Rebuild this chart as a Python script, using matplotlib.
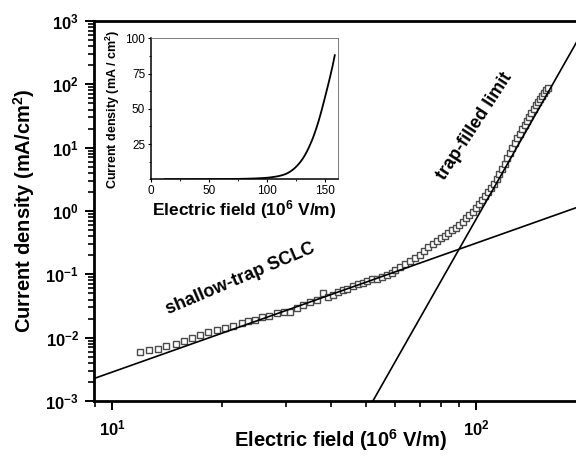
import numpy as np
import matplotlib as mpl
mpl.use('Agg')
from matplotlib import pyplot as plt
from matplotlib.ticker import NullFormatter, LogLocator, MultipleLocator

# fonts: bold Arial-like everywhere, math text in the same bold face
plt.rcParams['font.family'] = ['Liberation Sans', 'DejaVu Sans']
plt.rcParams['mathtext.fontset'] = 'custom'
plt.rcParams['mathtext.rm'] = 'Liberation Sans:bold'
plt.rcParams['mathtext.it'] = 'Liberation Sans:bold'
plt.rcParams['mathtext.bf'] = 'Liberation Sans:bold'
plt.rcParams['mathtext.default'] = 'rm'

# measured J-E data: field (10^6 V/m), current density (mA/cm^2)
field = [11.9, 12.6, 13.35, 14.1, 15.0, 15.8, 16.6, 17.5, 18.4, 19.4, 20.4,
         21.5, 22.7, 23.7, 24.7, 25.8, 27.05, 28.35,
         29.7, 30.8, 32.2, 33.55, 35.0, 36.5, 38.1, 39.3, 40.55, 41.85, 43.1,
         44.2, 45.9, 47.4, 48.9, 50.2, 51.8, 53.5, 55.2, 57.0, 58.8,
         60, 62, 64, 66, 68, 70, 72, 74, 76, 78, 80, 82, 84, 86, 88, 90, 92,
         94, 96, 98, 100, 102, 104, 106, 108, 110, 112, 114, 116, 118, 120,
         122, 124, 126, 128, 130, 132, 134, 136, 138, 140, 142, 144, 146, 148,
         150, 152, 154, 156, 158]
current = [5.86e-3, 6.31e-3, 6.70e-3, 7.29e-3, 8.04e-3, 8.75e-3, 9.89e-3,
           1.11e-2, 1.21e-2, 1.34e-2, 1.42e-2, 1.55e-2, 1.71e-2, 1.81e-2,
           1.92e-2, 2.09e-2, 2.22e-2, 2.45e-2,
           2.57e-2, 2.57e-2, 2.97e-2, 3.32e-2, 3.70e-2, 3.97e-2, 5.07e-2,
           4.43e-2, 4.77e-2, 5.32e-2, 5.71e-2, 5.93e-2, 6.61e-2, 7.11e-2,
           7.38e-2, 7.93e-2, 8.53e-2, 8.53e-2, 9.17e-2, 9.86e-2, 0.106,
           0.115, 0.132, 0.148, 0.162, 0.178, 0.205, 0.236, 0.266, 0.298, 0.333,
           0.370, 0.406, 0.445, 0.492, 0.545, 0.608, 0.680, 0.765, 0.860, 0.975,
           1.10, 1.27, 1.48, 1.72, 1.98, 2.30, 2.70, 3.20, 3.80, 4.60, 5.60,
           6.80, 8.20, 9.90, 11.8, 14.0, 16.6, 19.6, 23.0, 26.8, 31.0, 35.8,
           41.0, 46.8, 53.0, 59.5, 66.0, 72.8, 80.0, 88.0]

# straight fits on the log-log plot (end points)
sclc_field = [8.9, 200]
sclc_current = [2.25e-3, 1.27]
tfl_field = [52.1, 200]
tfl_current = [1.0e-3, 820]

fig = plt.figure(figsize=(5.76, 4.61), dpi=100)
ax = fig.add_axes([0.1625, 0.1302, 0.854, 0.8243])

ax.plot(field, current, ls='none', marker='s', ms=5.0, mfc='white',
        mec='#4a4a4a', mew=1.0, zorder=2)
ax.plot(sclc_field, sclc_current, color='k', lw=1.2, zorder=3)
ax.plot(tfl_field, tfl_current, color='k', lw=1.2, zorder=3)

ax.set_xscale('log')
ax.set_yscale('log')
ax.set_xlim(8.9, 200)
ax.set_ylim(1e-3, 1e3)

ax.set_xticks([10, 100], [r'$10^{1}$', r'$10^{2}$'])
ax.set_yticks([1e-3, 1e-2, 1e-1, 1e0, 1e1, 1e2, 1e3],
              [r'$10^{-3}$', r'$10^{-2}$', r'$10^{-1}$', r'$10^{0}$',
               r'$10^{1}$', r'$10^{2}$', r'$10^{3}$'])
ax.xaxis.set_minor_locator(LogLocator(subs=np.arange(2, 10)))
ax.yaxis.set_minor_locator(LogLocator(subs=np.arange(2, 10), numticks=20))
ax.xaxis.set_minor_formatter(NullFormatter())
ax.yaxis.set_minor_formatter(NullFormatter())
ax.tick_params(which='major', direction='out', length=6.5, width=1.4,
               labelsize=12, pad=4)
ax.tick_params(which='minor', direction='out', length=4, width=1.2)
ax.tick_params(axis='x', which='major', pad=6)
for side in ['left', 'bottom', 'top']:
    ax.spines[side].set_linewidth(2.0)
ax.spines['right'].set_visible(False)

ax.set_xlabel(r'Electric field (10$^{6}$ V/m)', fontsize=14.5,
              fontweight='bold')
ax.set_ylabel(r'Current density (mA/cm$^{2}$)', fontsize=14.5,
              fontweight='bold', labelpad=6)
ax.xaxis.set_label_coords((341 - 93.6) / (585.6 - 93.6), -0.068)

ax.text(22.5, 0.085, 'shallow-trap SCLC', fontsize=13, fontweight='bold',
        rotation=23, ha='center', va='center', rotation_mode='anchor')
ax.text(99.4, 22, 'trap-filled limit', fontsize=13, fontweight='bold',
        rotation=57, ha='center', va='center', rotation_mode='anchor')

# inset: same data on linear axes
ins = fig.add_axes([0.2616, 0.6111, 0.3247, 0.3059])
ins.plot(field, current, color='k', lw=1.3)
ins.set_xlim(0, 160.5)
ins.set_ylim(0, 100)
ins.set_xticks([0, 50, 100, 150])
ins.set_yticks([25, 50, 75, 100])
ins.xaxis.set_minor_locator(MultipleLocator(25))
ins.yaxis.set_minor_locator(MultipleLocator(12.5))
ins.tick_params(which='major', direction='out', length=2.5, width=0.8,
                labelsize=8.5, pad=1.5)
ins.tick_params(which='minor', direction='out', length=1.5, width=0.6)
ins.spines['left'].set_linewidth(1.1)
ins.spines['bottom'].set_linewidth(1.1)
ins.spines['top'].set_linewidth(0.6)
ins.spines['right'].set_linewidth(0.6)
ins.spines['top'].set_color('#666666')
ins.spines['right'].set_color('#666666')
ins.set_xlabel(r'Electric field (10$^{6}$ V/m)', fontsize=12.5,
               fontweight='bold', labelpad=1)
ins.set_ylabel(r'Current density (mA / cm$^{2}$)', fontsize=9,
               fontweight='bold', labelpad=2)

fig.savefig('out.png', dpi=100)
